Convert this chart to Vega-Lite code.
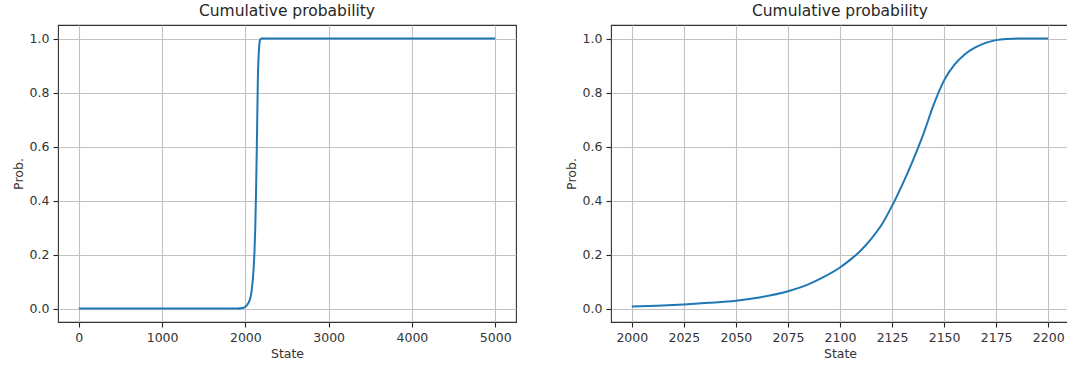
{
  "$schema": "https://vega.github.io/schema/vega-lite/v6.json",
  "padding": {"left": 11, "top": 2, "right": 0, "bottom": 0},
  "spacing": 47,
  "config": {
    "font": "DejaVu Sans",
    "view": {"stroke": "#333333", "strokeWidth": 1.1},
    "axis": {
      "domain": false,
      "grid": true,
      "gridColor": "#c2c2c2",
      "gridWidth": 1.1,
      "tickColor": "#262626",
      "tickSize": 5,
      "tickWidth": 1.1,
      "labelFontSize": 12.5,
      "labelColor": "#333333",
      "labelPadding": 4,
      "titleFontSize": 12.5,
      "titleFontWeight": "normal",
      "titleColor": "#333333",
      "titlePadding": 4,
      "labelFlush": false
    },
    "title": {"fontSize": 15.5, "fontWeight": "normal", "color": "#262626", "offset": 6}
  },
  "datasets": {
    "full": [
      {"state": 0, "p": 0.0},
      {"state": 1000, "p": 0.0},
      {"state": 1900, "p": 0.0},
      {"state": 1980, "p": 0.003},
      {"state": 2000, "p": 0.007},
      {"state": 2025, "p": 0.015},
      {"state": 2050, "p": 0.029},
      {"state": 2075, "p": 0.064},
      {"state": 2100, "p": 0.152},
      {"state": 2110, "p": 0.215},
      {"state": 2120, "p": 0.31},
      {"state": 2130, "p": 0.46},
      {"state": 2140, "p": 0.645},
      {"state": 2150, "p": 0.85},
      {"state": 2160, "p": 0.94},
      {"state": 2175, "p": 0.993},
      {"state": 2190, "p": 1.0},
      {"state": 3000, "p": 1.0},
      {"state": 5000, "p": 1.0}
    ],
    "zoom": [
      {"state": 2000, "p": 0.007},
      {"state": 2012, "p": 0.01},
      {"state": 2025, "p": 0.015},
      {"state": 2037, "p": 0.021},
      {"state": 2050, "p": 0.029},
      {"state": 2062, "p": 0.042},
      {"state": 2075, "p": 0.064},
      {"state": 2085, "p": 0.09},
      {"state": 2092, "p": 0.116},
      {"state": 2100, "p": 0.152},
      {"state": 2105, "p": 0.181},
      {"state": 2110, "p": 0.215},
      {"state": 2115, "p": 0.258},
      {"state": 2120, "p": 0.31},
      {"state": 2125, "p": 0.38},
      {"state": 2130, "p": 0.46},
      {"state": 2135, "p": 0.548},
      {"state": 2140, "p": 0.645},
      {"state": 2145, "p": 0.755},
      {"state": 2150, "p": 0.845},
      {"state": 2155, "p": 0.903},
      {"state": 2160, "p": 0.942},
      {"state": 2165, "p": 0.967},
      {"state": 2170, "p": 0.984},
      {"state": 2175, "p": 0.994},
      {"state": 2180, "p": 0.998},
      {"state": 2188, "p": 1.0},
      {"state": 2200, "p": 1.0}
    ]
  },
  "hconcat": [
    {
      "width": 458,
      "height": 297,
      "title": "Cumulative probability",
      "data": {"name": "full"},
      "mark": {"type": "line", "color": "#1f77b4", "strokeWidth": 2, "interpolate": "monotone", "clip": true},
      "encoding": {
        "x": {"field": "state", "type": "quantitative", "title": "State",
              "scale": {"domain": [-250, 5250], "nice": false, "zero": false},
              "axis": {"values": [0, 1000, 2000, 3000, 4000, 5000], "format": "d"}},
        "y": {"field": "p", "type": "quantitative", "title": "Prob.",
              "scale": {"domain": [-0.05, 1.05], "nice": false, "zero": false},
              "axis": {"values": [0, 0.2, 0.4, 0.6, 0.8, 1.0], "format": ".1f"}}
      }
    },
    {
      "width": 458,
      "height": 297,
      "title": "Cumulative probability",
      "data": {"name": "zoom"},
      "mark": {"type": "line", "color": "#1f77b4", "strokeWidth": 2, "interpolate": "monotone", "clip": true},
      "encoding": {
        "x": {"field": "state", "type": "quantitative", "title": "State",
              "scale": {"domain": [1990, 2210], "nice": false, "zero": false},
              "axis": {"values": [2000, 2025, 2050, 2075, 2100, 2125, 2150, 2175, 2200], "format": "d"}},
        "y": {"field": "p", "type": "quantitative", "title": "Prob.",
              "scale": {"domain": [-0.05, 1.05], "nice": false, "zero": false},
              "axis": {"values": [0, 0.2, 0.4, 0.6, 0.8, 1.0], "format": ".1f"}}
      }
    }
  ]
}
